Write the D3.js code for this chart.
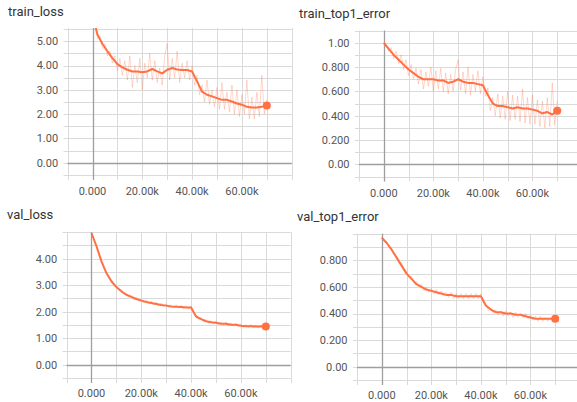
<!DOCTYPE html>
<html>
<head>
<meta charset="utf-8">
<script src="https://cdn.jsdelivr.net/npm/d3@7/dist/d3.min.js"></script>
<style>
  html, body { margin: 0; padding: 0; background: #fff; }
  svg { display: block; font-family: Roboto, "Noto Sans", sans-serif; }
</style>
</head>
<body>
<svg id="chart" width="577" height="402"></svg>
<script>
// ---------- DATA ----------
const titles = ["train_loss", "train_top1_error", "val_loss", "val_top1_error"];

// step values (thousands)
const rawSteps = d3.range(0, 71, 1).map(k => k * 1000);     // 0..70k by 1k
const smoothSteps = d3.range(0, 71, 2).map(k => k * 1000);  // 0..70k by 2k

const xTicks = [0, 20000, 40000, 60000];

// train_loss
const trainLossRaw = [6.2,5.6,5.1,5.2,4.7,4.9,4.4,4.6,4.1,4.4,3.8,4.3,3.6,4.2,3.4,4.4,3.1,4.0,3.3,4.3,
  3.0,4.1,3.5,4.5,3.4,4.2,3.3,3.9,3.2,4.4,4.9,3.4,4.3,3.5,4.6,3.3,4.1,3.5,4.2,3.4,
  4.0,3.2,3.6,2.8,3.2,2.5,3.4,2.4,3.0,2.3,3.1,2.2,3.3,2.2,2.9,2.1,3.2,2.0,3.0,1.9,
  2.8,2.0,3.4,1.8,2.7,1.8,2.9,1.9,3.6,2.0,2.6];
const trainLossSmooth = [6.1,5.28,4.89,4.59,4.31,4.06,3.93,3.83,3.76,3.76,3.73,3.76,3.86,3.76,3.68,3.83,3.90,3.84,
  3.82,3.82,3.76,3.35,2.93,2.80,2.73,2.66,2.59,2.59,2.52,2.44,2.39,2.30,2.27,2.27,2.30,2.36];
const trainLossTicks = [0, 1, 2, 3, 4, 5];

// train_top1_error
const trainErrRaw = [1.0,0.99,0.93,0.96,0.87,0.93,0.83,0.90,0.78,0.86,0.73,0.82,0.70,0.79,0.66,0.78,0.62,0.76,0.64,0.80,
  0.60,0.77,0.62,0.79,0.60,0.75,0.58,0.74,0.60,0.78,0.86,0.61,0.76,0.58,0.80,0.57,0.74,0.60,0.77,0.58,
  0.72,0.56,0.63,0.44,0.55,0.40,0.58,0.38,0.56,0.37,0.60,0.36,0.57,0.37,0.56,0.35,0.62,0.34,0.55,0.33,
  0.57,0.33,0.53,0.31,0.52,0.30,0.55,0.31,0.67,0.32,0.52];
const trainErrSmooth = [1.0,0.95,0.90,0.86,0.82,0.78,0.75,0.72,0.70,0.70,0.70,0.69,0.69,0.67,0.68,0.70,0.68,0.67,
  0.67,0.66,0.65,0.57,0.50,0.48,0.48,0.47,0.46,0.47,0.46,0.46,0.45,0.44,0.42,0.43,0.41,0.44];
const trainErrTicks = [0, 0.2, 0.4, 0.6, 0.8, 1.0];

// val_loss
const valLossRaw = [4.99,4.70,4.52,4.12,3.95,3.62,3.50,3.25,3.20,2.98,2.97,2.80,2.82,2.66,2.70,2.55,2.62,2.45,2.55,2.40,
  2.48,2.33,2.43,2.30,2.40,2.26,2.36,2.22,2.33,2.18,2.30,2.16,2.27,2.14,2.26,2.13,2.25,2.11,2.23,2.10,
  2.22,1.93,1.88,1.72,1.78,1.62,1.71,1.56,1.67,1.53,1.65,1.50,1.62,1.49,1.62,1.46,1.58,1.45,1.57,1.42,
  1.54,1.40,1.52,1.39,1.52,1.38,1.51,1.38,1.50,1.38,1.46];
const valLossSmooth = [4.97,4.47,3.90,3.46,3.15,2.93,2.77,2.64,2.56,2.48,2.42,2.37,2.33,2.29,2.25,2.23,2.20,2.19,
  2.18,2.16,2.16,1.82,1.72,1.64,1.60,1.58,1.55,1.55,1.51,1.51,1.47,1.45,1.45,1.44,1.44,1.44];
const valLossTicks = [0, 1, 2, 3, 4];

// val_top1_error
const valErrRaw = [0.98,0.94,0.94,0.89,0.89,0.84,0.83,0.78,0.78,0.72,0.72,0.67,0.68,0.63,0.64,0.60,0.62,0.57,0.60,0.56,
  0.59,0.55,0.58,0.54,0.57,0.53,0.56,0.52,0.56,0.51,0.55,0.51,0.55,0.51,0.55,0.51,0.55,0.51,0.55,0.51,
  0.55,0.48,0.47,0.42,0.44,0.40,0.43,0.39,0.42,0.38,0.42,0.38,0.41,0.37,0.41,0.37,0.40,0.37,0.40,0.36,
  0.39,0.35,0.38,0.34,0.38,0.34,0.37,0.34,0.37,0.34,0.36];
const valErrSmooth = [0.97,0.93,0.88,0.82,0.76,0.70,0.66,0.62,0.60,0.58,0.57,0.56,0.55,0.54,0.54,0.53,0.53,0.53,
  0.53,0.53,0.53,0.46,0.43,0.41,0.41,0.40,0.40,0.39,0.39,0.38,0.37,0.36,0.36,0.36,0.36,0.36];
const valErrTicks = [0, 0.2, 0.4, 0.6, 0.8];

// ---------- LAYOUT ----------
const panels = [
  { title: titles[0], raw: trainLossRaw, smooth: trainLossSmooth, ticks: trainLossTicks, minor: 0.5,
    yDom: [-0.5, 5.55], xr: [67.6, 291.7], yr: [174.8, 28], tx: 8, ty: 16, xlabY: 195 },
  { title: titles[1], raw: trainErrRaw, smooth: trainErrSmooth, ticks: trainErrTicks, minor: 0.1,
    yDom: [-0.1, 1.1], xr: [359, 582], yr: [176.5, 30.6], tx: 299, ty: 18, xlabY: 197 },
  { title: titles[2], raw: valLossRaw, smooth: valLossSmooth, ticks: valLossTicks, minor: 0.5,
    yDom: [-0.5, 5.0], xr: [66.6, 290.7], yr: [378, 232.2], tx: 7, ty: 219, xlabY: 397 },
  { title: titles[3], raw: valErrRaw, smooth: valErrSmooth, ticks: valErrTicks, minor: 0.1,
    yDom: [-0.1, 1.0], xr: [357, 580], yr: [380, 233.7], tx: 297, ty: 220.5, xlabY: 399 }
];

const svg = d3.select("#chart");
const orange = "#ff7043";
const fmtY = d3.format(".3r");
const fmtX = d3.format(".4s");

panels.forEach((p, i) => {
  const x = d3.scaleLinear().domain([-10000, 80000]).range(p.xr);
  const y = d3.scaleLinear().domain(p.yDom).range(p.yr);
  const g = svg.append("g");

  const left = p.xr[0], right = Math.min(p.xr[1], 577);
  const top = p.yr[1], bottom = p.yr[0];

  const cid = "clip" + i;
  svg.append("clipPath").attr("id", cid).append("rect")
    .attr("x", left).attr("y", top).attr("width", right - left).attr("height", bottom - top);

  const nMinor = Math.round((p.yDom[1] - p.yDom[0]) / p.minor) + 1;
  const hVals = d3.range(0, nMinor + 1).map(k => +(p.yDom[0] + k * p.minor).toFixed(4))
    .filter(v => v >= p.yDom[0] - 1e-6 && v <= p.yDom[1] + 1e-6);
  g.selectAll(".hg").data(hVals).join("line")
    .attr("x1", left - 4).attr("x2", right)
    .attr("y1", d => Math.round(y(d)) + 0.5).attr("y2", d => Math.round(y(d)) + 0.5)
    .attr("stroke", "#dadada").attr("stroke-width", 1);

  const vVals = d3.range(-10000, 80001, 10000);
  g.selectAll(".vg").data(vVals).join("line")
    .attr("x1", d => Math.round(x(d)) + 0.5).attr("x2", d => Math.round(x(d)) + 0.5)
    .attr("y1", top).attr("y2", bottom + 5)
    .attr("stroke", "#dadada").attr("stroke-width", 1);

  g.append("line")
    .attr("x1", left).attr("x2", right)
    .attr("y1", Math.round(y(0)) + 0.5).attr("y2", Math.round(y(0)) + 0.5)
    .attr("stroke", "#9e9e9e").attr("stroke-width", 1.3);
  g.append("line")
    .attr("x1", Math.round(x(0)) + 0.5).attr("x2", Math.round(x(0)) + 0.5)
    .attr("y1", top).attr("y2", bottom + 5)
    .attr("stroke", "#9e9e9e").attr("stroke-width", 1.3);

  g.selectAll(".yl").data(p.ticks).join("text")
    .attr("x", left - 9.5).attr("y", d => y(d)).attr("dy", "0.35em")
    .attr("text-anchor", "end").attr("font-size", 11).attr("fill", "#555")
    .text(d => fmtY(d));

  g.selectAll(".xl").data(xTicks).join("text")
    .attr("x", d => x(d)).attr("y", p.xlabY)
    .attr("text-anchor", "middle").attr("font-size", 11).attr("fill", "#555")
    .text(d => fmtX(d));

  g.append("text").attr("x", p.tx).attr("y", p.ty)
    .attr("font-size", 13).attr("fill", "#333").text(p.title);

  const plot = g.append("g").attr("clip-path", `url(#${cid})`);
  const line = d3.line().x(d => x(d[0])).y(d => y(d[1]));
  plot.append("path")
    .datum(rawSteps.map((s, k) => [s, p.raw[k]]))
    .attr("d", line).attr("fill", "none")
    .attr("stroke", orange).attr("stroke-opacity", 0.28).attr("stroke-width", 1);
  plot.append("path")
    .datum(smoothSteps.map((s, k) => [s, p.smooth[k]]))
    .attr("d", line).attr("fill", "none")
    .attr("stroke", orange).attr("stroke-width", 2).attr("stroke-linejoin", "round");
  const lastS = smoothSteps[smoothSteps.length - 1];
  const lastV = p.smooth[p.smooth.length - 1];
  plot.append("circle").attr("cx", x(lastS)).attr("cy", y(lastV)).attr("r", 4).attr("fill", orange);
});
</script>
</body>
</html>
